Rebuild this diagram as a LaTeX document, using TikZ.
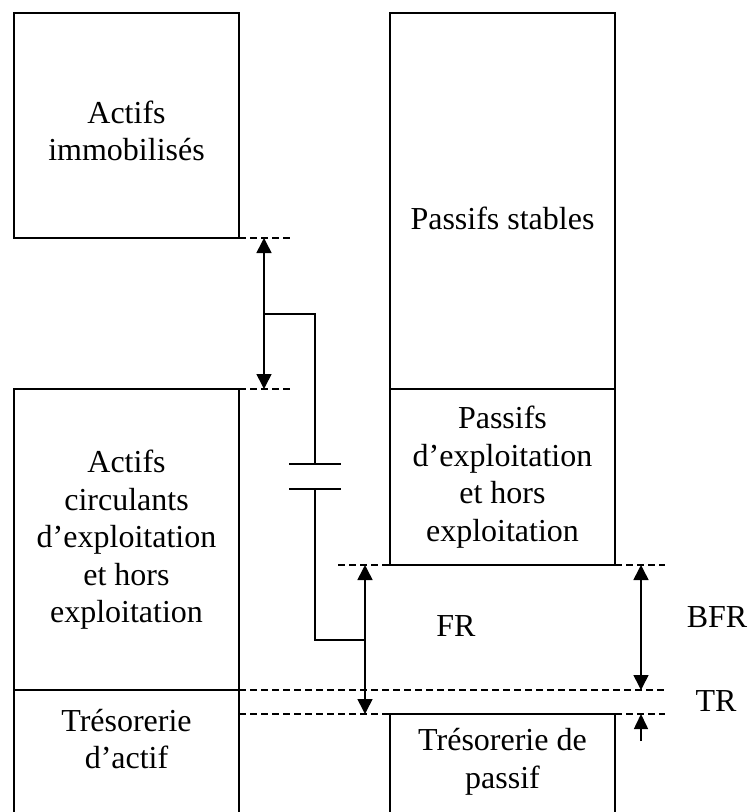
\documentclass[tikz,border=0pt]{standalone}
\usepackage{fontspec}
\setmainfont{Liberation Serif}
\usetikzlibrary{arrows.meta}
\begin{document}
\begin{tikzpicture}[x=1pt,y=-1pt,
  ln/.style={line width=1.6pt},
  boxnode/.style={draw, line width=1.6pt, inner sep=0pt},
  dsh/.style={line width=1.3pt, dash pattern=on 7pt off 4pt},
  tip/.style={line width=1.6pt, -{Triangle[width=14pt,length=15pt]}},
  dtip/.style={line width=1.6pt, {Triangle[width=15pt,length=15pt]}-{Triangle[width=15pt,length=15pt]}},
  lbl/.style={font=\fontsize{32}{37.5}\selectfont, align=center, inner sep=0pt}]
\useasboundingbox (0,0) rectangle (749,812);
% boxes
\node[boxnode, minimum width=225pt, minimum height=225pt] (ai) at (126.5,125.5) {};
\node[boxnode, minimum width=225pt, minimum height=376pt] (ps) at (502.5,201) {};
\node[boxnode, minimum width=225pt, minimum height=176pt] (pe) at (502.5,477) {};
\coordinate (acTL) at (14,389); \coordinate (acTR) at (239,389);
\coordinate (acBL) at (14,812); \coordinate (acBR) at (239,812);
\coordinate (trL) at (14,690); \coordinate (trR) at (239,690);
\draw[ln] (acBL) -- (acTL) -- (acTR) -- (acBR);
\draw[ln] (trL) -- (trR);
\coordinate (tpTL) at (390,714); \coordinate (tpTR) at (615,714);
\coordinate (tpBL) at (390,812); \coordinate (tpBR) at (615,812);
\draw[ln] (tpBL) -- (tpTL) -- (tpTR) -- (tpBR);
% texts
\node[lbl] (tai) at (126.5,131) {Actifs\\immobilisés};
\node[lbl] (tac) at (126.5,540) {Actifs\\circulants\\d’exploitation\\et hors\\exploitation};
\node[lbl] (tta) at (126.5,739) {Trésorerie\\d’actif};
\node[lbl] (tps) at (502.5,218) {Passifs stables};
\node[lbl] (tpe) at (502.5,477) {Passifs\\d’exploitation\\et hors\\exploitation};
\node[lbl] (ttp) at (502.5,762) {Trésorerie de\\passif};
\node[lbl] (fr) at (456,626) {FR};
\node[lbl] (bfr) at (717,617) {BFR};
\node[lbl] (tr) at (716,701) {TR};
% dashed guide lines
\coordinate (d1a) at (239,238); \coordinate (d1b) at (292,238);
\coordinate (d2a) at (239,389); \coordinate (d2b) at (292,389);
\coordinate (d3a) at (338,565); \coordinate (d3b) at (390,565);
\coordinate (d4a) at (615,565); \coordinate (d4b) at (665,565);
\coordinate (d5a) at (239,690); \coordinate (d5b) at (665,690);
\coordinate (d6a) at (239,714); \coordinate (d6b) at (390,714);
\coordinate (d7a) at (615,714); \coordinate (d7b) at (665,714);
\draw[dsh] (d1a) -- (d1b);
\draw[dsh] (d2a) -- (d2b);
\draw[dsh] (d3a) -- (d3b);
\draw[dsh] (d4a) -- (d4b);
\draw[dsh] (d5a) -- (d5b);
\draw[dsh] (d6a) -- (d6b);
\draw[dsh] (d7a) -- (d7b);
% arrows
\coordinate (a1t) at (264,238); \coordinate (a1b) at (264,389);
\coordinate (a2t) at (365,565); \coordinate (a2b) at (365,714);
\coordinate (a3t) at (641,565); \coordinate (a3b) at (641,690);
\coordinate (a4s) at (641,741); \coordinate (a4e) at (641,714);
\draw[dtip] (a1t) -- (a1b);
\draw[dtip] (a2t) -- (a2b);
\draw[dtip] (a3t) -- (a3b);
\draw[tip] (a4s) -- (a4e);
% capacitor-like connector
\coordinate (c0) at (264,314);
\coordinate (c1) at (315,464);
\coordinate (c2) at (315,489);
\coordinate (c3) at (365,640);
\coordinate (p1l) at (289,464); \coordinate (p1r) at (341,464);
\coordinate (p2l) at (289,489); \coordinate (p2r) at (341,489);
\draw[ln] (c0) -| (c1);
\draw[ln] (p1l) -- (p1r);
\draw[ln] (p2l) -- (p2r);
\draw[ln] (c2) |- (c3);
\end{tikzpicture}
\end{document}
